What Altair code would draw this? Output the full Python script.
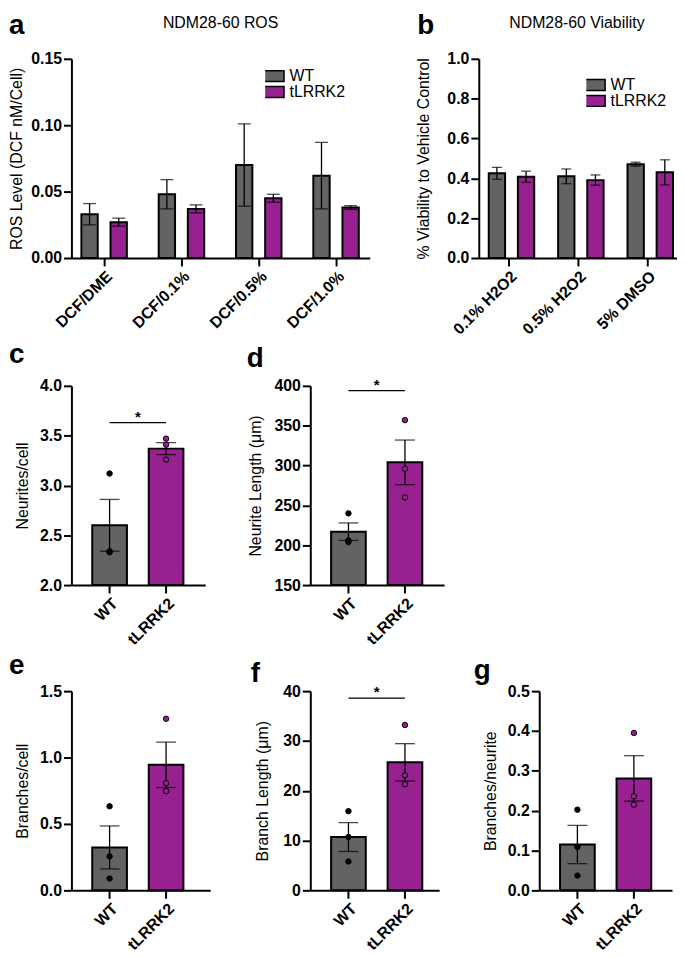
import altair as alt
import pandas as pd

FONT = "Liberation Sans"
GREY = "#636363"
PURPLE = "#972191"
GENOS = ["WT", "tLRRK2"]

# ---------------- data ----------------
# a: ROS
ros_conditions = ["DCF/DME", "DCF/0.1%", "DCF/0.5%", "DCF/1.0%"]
ros_wt_mean = [0.033, 0.048, 0.070, 0.062]
ros_wt_sem = [0.008, 0.011, 0.031, 0.025]
ros_tl_mean = [0.027, 0.037, 0.045, 0.038]
ros_tl_sem = [0.003, 0.003, 0.003, 0.0014]
ros_ticks = [0.0, 0.05, 0.10, 0.15]

# b: viability
via_conditions = ["0.1% H2O2", "0.5% H2O2", "5% DMSO"]
via_wt_mean = [0.425, 0.410, 0.471]
via_wt_sem = [0.030, 0.037, 0.010]
via_tl_mean = [0.408, 0.391, 0.430]
via_tl_sem = [0.028, 0.026, 0.063]
via_ticks = [0.0, 0.2, 0.4, 0.6, 0.8, 1.0]

# c: neurites/cell
neu_mean = [2.60, 3.37]
neu_sem = [0.26, 0.06]
neu_wt_pts = [3.12, 2.34, 2.33]
neu_tl_pts = [3.47, 3.41, 3.26]
neu_ticks = [2.0, 2.5, 3.0, 3.5, 4.0]
neu_sig = 3.63

# d: neurite length
nlen_mean = [217, 304]
nlen_sem = [11, 28]
nlen_wt_pts = [240, 206, 204]
nlen_tl_pts = [357, 296, 260]
nlen_ticks = [150, 200, 250, 300, 350, 400]
nlen_sig = 394

# e: branches/cell
bc_mean = [0.323, 0.945]
bc_sem = [0.162, 0.171]
bc_wt_pts = [0.633, 0.256, 0.089]
bc_tl_pts = [1.292, 0.807, 0.747]
bc_ticks = [0.0, 0.5, 1.0, 1.5]

# f: branch length
bl_mean = [10.7, 25.7]
bl_sem = [2.9, 3.75]
bl_wt_pts = [15.9, 10.7, 5.8]
bl_tl_pts = [33.2, 23.1, 21.3]
bl_ticks = [0, 10, 20, 30, 40]
bl_sig = 38.6

# g: branches/neurite
bn_mean = [0.115, 0.281]
bn_sem = [0.048, 0.057]
bn_wt_pts = [0.2025, 0.109, 0.037]
bn_tl_pts = [0.395, 0.236, 0.215]
bn_ticks = [0.0, 0.1, 0.2, 0.3, 0.4, 0.5]


def band(domain, width, first_center, step, bw):
    n = len(domain)
    pi = 1 - bw / step
    span = step * (n - pi)
    outer = width - span
    po = outer / (2 * step)
    align = (first_center - bw / 2) / outer
    return alt.Scale(domain=domain, paddingInner=pi, paddingOuter=po, align=align)


def text_layer(txt, x, y, size, weight, align, baseline="top"):
    return alt.Chart(pd.DataFrame({"t": [txt]})).mark_text(
        align=align, baseline=baseline, font=FONT, fontSize=size,
        fontWeight=weight, color="black"
    ).encode(text="t:N", x=alt.value(x), y=alt.value(y))


def grouped_panel(conds, wt_m, wt_s, tl_m, tl_s, ticks, fmt, ytitle, tp,
                  width, first_center, step, bw, off_center, off_step, bar_w,
                  cap, lx, ly, letter, letter_xy, title, title_x):
    rows = []
    for g, ms, ss in (("WT", wt_m, wt_s), ("tLRRK2", tl_m, tl_s)):
        for c, m, s in zip(conds, ms, ss):
            rows.append({"cond": c, "geno": g, "mean": m, "lo": m - s, "hi": m + s})
    df = pd.DataFrame(rows)
    X = alt.X("cond:N", scale=band(conds, width, first_center, step, bw),
              sort=conds, axis=alt.Axis(title=None, labelAngle=-45))
    XO = alt.XOffset("geno:N", scale=band(GENOS, bw, off_center, off_step, bar_w), sort=GENOS)
    ys = alt.Scale(domain=[ticks[0], ticks[-1]], nice=False)
    ax = alt.Axis(values=ticks, format=fmt, title=ytitle, titlePadding=tp)

    def Y(f):
        return alt.Y(f, type="quantitative", scale=ys, axis=ax)

    leg = alt.Legend(title=None, orient="none", legendX=lx, legendY=ly, direction="vertical",
                     symbolType="M-2,-1H2V1H-2Z", symbolSize=121, symbolStrokeColor="black",
                     symbolStrokeWidth=1.5, labelFont=FONT, labelFontSize=16,
                     labelFontWeight="normal", labelColor="black", labelOffset=8.5,
                     clipHeight=15, rowPadding=-1, padding=0)
    base = alt.Chart(df)
    bars = base.mark_bar(stroke="black", strokeWidth=2).encode(
        x=X, xOffset=XO, y=Y("mean"),
        color=alt.Color("geno:N", sort=GENOS, scale=alt.Scale(domain=GENOS, range=[GREY, PURPLE]), legend=leg))
    err = base.mark_rule(color="black", strokeWidth=1.3).encode(x=X, xOffset=XO, y=Y("lo"), y2="hi:Q")
    cap_hi = base.mark_tick(color="black", thickness=1.3, size=cap).encode(x=X, xOffset=XO, y=Y("hi"))
    cap_lo = base.mark_tick(color="black", thickness=1.3, size=cap).encode(x=X, xOffset=XO, y=Y("lo"))
    lt = text_layer(letter, letter_xy[0], letter_xy[1], 28, "bold", "left")
    tt = text_layer(title, title_x, -44, 16, "normal", "center")
    return alt.layer(bars, err, cap_hi, cap_lo, lt, tt).properties(width=width, height=201)


def simple_panel(means, sems, wt_pts, tl_pts, ticks, fmt, ytitle, tp, width,
                 letter, letter_xy, sig=None):
    df = pd.DataFrame({"geno": GENOS, "mean": means,
                       "lo": [m - s for m, s in zip(means, sems)],
                       "hi": [m + s for m, s in zip(means, sems)]})
    pts = pd.DataFrame({"geno": ["WT"] * len(wt_pts) + ["tLRRK2"] * len(tl_pts),
                        "val": wt_pts + tl_pts})
    xs = band(GENOS, width, 38.5, 57, 35)
    xax = alt.Axis(title=None, labelAngle=-45)

    def X(f):
        return alt.X(f, type="nominal", scale=xs, sort=GENOS, axis=xax)

    ys = alt.Scale(domain=[ticks[0], ticks[-1]], nice=False, zero=False)
    ax = alt.Axis(values=ticks, format=fmt, title=ytitle, titlePadding=tp)

    def Y(f):
        return alt.Y(f, type="quantitative", scale=ys, axis=ax)

    bars = alt.Chart(df).mark_bar(stroke="black", strokeWidth=2).encode(
        x=X("geno"), y=Y("mean"), y2=alt.datum(ticks[0]),
        color=alt.Color("geno:N", sort=GENOS, scale=alt.Scale(domain=GENOS, range=[GREY, PURPLE]), legend=None))
    err = alt.Chart(df).mark_rule(color="black", strokeWidth=1.3).encode(x=X("geno"), y=Y("lo"), y2="hi:Q")
    cap_hi = alt.Chart(df).mark_tick(color="black", thickness=1.3, size=20).encode(x=X("geno"), y=Y("hi"))
    cap_lo = alt.Chart(df).mark_tick(color="black", thickness=1.3, size=20).encode(x=X("geno"), y=Y("lo"))
    dots = alt.Chart(pts).mark_circle(size=30, stroke="black", strokeWidth=1, opacity=1).encode(
        x=X("geno"), y=Y("val"),
        fill=alt.Fill("geno:N", sort=GENOS, scale=alt.Scale(domain=GENOS, range=["black", PURPLE]), legend=None))
    layers = [bars, err, cap_hi, cap_lo, dots]
    if sig is not None:
        sdf = pd.DataFrame({"g1": ["WT"], "g2": ["tLRRK2"], "y": [sig]})
        layers.append(alt.Chart(sdf).mark_rule(color="black", strokeWidth=1.3).encode(
            x=X("g1"), x2="g2:N", y=Y("y")))
        layers.append(alt.Chart(sdf).mark_text(text="*", font=FONT, fontSize=15, fontWeight="bold",
                                               baseline="alphabetic", align="center", dx=28.5, dy=-1,
                                               color="black").encode(x=X("g1"), y=Y("y")))
    layers.append(text_layer(letter, letter_xy[0], letter_xy[1], 28, "bold", "left"))
    return alt.layer(*layers).properties(width=width, height=201)


pa = grouped_panel(ros_conditions, ros_wt_mean, ros_wt_sem, ros_tl_mean, ros_tl_sem,
                   ros_ticks, ".2f", "ROS Level (DCF nM/Cell)", 6,
                   301, 33, 78, 56, 13.3, 29.4, 16.5, 13, 195.5, 10,
                   "a", (-63, -47), "NDM28-60 ROS", 150.5)
pb = grouped_panel(via_conditions, via_wt_mean, via_wt_sem, via_tl_mean, via_tl_sem,
                   via_ticks, ".1f", "% Viability to Vehicle Control", 15,
                   200, 30, 70, 50, 12, 26, 14, 10, 108.5, 19,
                   "b", (-62, -47), "NDM28-60 Viability", 99)
pc = simple_panel(neu_mean, neu_sem, neu_wt_pts, neu_tl_pts, neu_ticks, ".1f",
                  "Neurites/cell", 9, 135, "c", (-63, -45), sig=neu_sig)
pd_ = simple_panel(nlen_mean, nlen_sem, nlen_wt_pts, nlen_tl_pts, nlen_ticks, "d",
                   "Neurite Length (\u03bcm)", 11, 135, "d", (-64, -41.4), sig=nlen_sig)
pe = simple_panel(bc_mean, bc_sem, bc_wt_pts, bc_tl_pts, bc_ticks, ".1f",
                  "Branches/cell", 9, 140, "e", (-63, -39.2))
pf = simple_panel(bl_mean, bl_sem, bl_wt_pts, bl_tl_pts, bl_ticks, "d",
                  "Branch Length (\u03bcm)", 12, 130, "f", (-60, -31.6), sig=bl_sig)
pg = simple_panel(bn_mean, bn_sem, bn_wt_pts, bn_tl_pts, bn_ticks, ".1f",
                  "Branches/neurite", 9, 134, "g", (-66, -34.2))


def row(*charts, spacing):
    return alt.hconcat(*charts, spacing=spacing, bounds="flush").resolve_scale(
        color="independent", fill="independent").resolve_legend(color="independent")


row1 = row(pa, pb, spacing=110)
row2 = row(pc, pd_, spacing=106)
row3 = row(pe, pf, pg, spacing=101)

chart = alt.vconcat(row1, row2, row3, spacing=4).resolve_scale(
    color="independent", fill="independent").resolve_legend(color="independent").properties(
    padding=0
).configure_axis(
    domainColor="black", domainWidth=2, tickColor="black", tickWidth=2, tickSize=8,
    labelFont=FONT, labelFontSize=16, labelFontWeight="bold", labelColor="black", labelPadding=2,
    titleFont=FONT, titleFontSize=16, titleFontWeight="normal", titleColor="black", grid=False
).configure_view(stroke=None)

chart.save("out.html", embed_options={"renderer": "svg", "actions": False})
